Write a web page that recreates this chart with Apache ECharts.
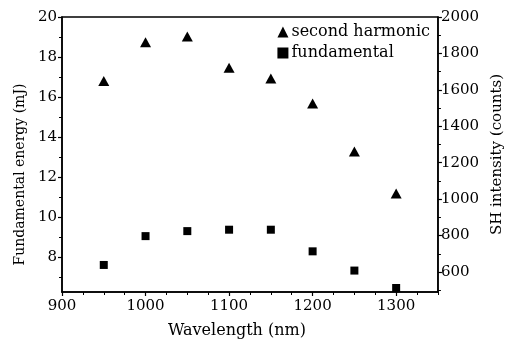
<!DOCTYPE html>
<html>
<head>
<meta charset="utf-8">
<script src="https://cdn.jsdelivr.net/npm/echarts@6/dist/echarts.min.js"></script>
<style>
  html, body { margin: 0; padding: 0; background: #fff; }
  #main { width: 513px; height: 344px; }
</style>
</head>
<body>
<div id="main"></div>
<script>
// wavelength (nm)
const wavelengths = [950, 1000, 1050, 1100, 1150, 1200, 1250, 1300];
// fundamental energy (mJ), left axis
const fundamental = [7.62, 9.06, 9.31, 9.38, 9.38, 8.30, 7.34, 6.47];
// SH intensity (counts), right axis
const secondHarmonic = [1648, 1862, 1893, 1721, 1662, 1525, 1261, 1031];

const xTicks = [900, 1000, 1100, 1200, 1300];
const leftTicks = [8, 10, 12, 14, 16, 18, 20];
const leftMinor = [7, 9, 11, 13, 15, 17, 19];
const rightTicks = [600, 800, 1000, 1200, 1400, 1600, 1800, 2000];
const rightMinor = [500, 700, 900, 1100, 1300, 1500, 1700, 1900];

const font = 'DejaVu Serif';
const ink = '#000';

function pairs(ys) {
    return wavelengths.map(function (w, i) { return [w, ys[i]]; });
}
function plain(v) { return String(v); }

const myChart = echarts.init(document.getElementById('main'));

const option = {
    animation: false,
    backgroundColor: '#fff',
    textStyle: { fontFamily: font, color: ink },
    grid: {
        left: 62, right: 73, top: 17, bottom: 50,
        show: true, borderColor: ink, borderWidth: 1.5
    },
    legend: {
        orient: 'vertical',
        right: 78,
        top: 19,
        itemGap: 5,
        itemWidth: 11,
        itemHeight: 11,
        textStyle: { fontFamily: font, fontSize: 16, color: ink, padding: [0, 0, 0, -2] },
        data: [
            { name: 'second harmonic', icon: 'triangle' },
            { name: 'fundamental', icon: 'rect' }
        ]
    },
    xAxis: [
        {
            type: 'value', min: 900, max: 1350,
            name: 'Wavelength (nm)', nameLocation: 'middle', nameGap: 31,
            nameTextStyle: { fontFamily: font, fontSize: 16, color: ink, padding: [0, 26, 0, 0] },
            axisLine: { lineStyle: { color: ink, width: 1.5 } },
            axisTick: { customValues: xTicks, length: 4, lineStyle: { color: ink, width: 1.2 } },
            axisLabel: { customValues: xTicks, formatter: plain, fontFamily: font, fontSize: 15, color: ink, margin: 7 },
            splitLine: { show: false }
        },
        {
            type: 'value', min: 900, max: 1350, interval: 25, position: 'bottom',
            axisLine: { show: false },
            axisTick: { length: 3, lineStyle: { color: ink, width: 1 } },
            axisLabel: { show: false },
            splitLine: { show: false }
        }
    ],
    yAxis: [
        {
            type: 'value', min: 6.27, max: 20, position: 'left',
            name: 'Fundamental energy (mJ)', nameLocation: 'middle', nameGap: 32,
            nameTextStyle: { fontFamily: font, fontSize: 14, color: ink, padding: [0, 0, 0, -40] },
            axisLine: { show: true, lineStyle: { color: ink, width: 1.5 } },
            axisTick: { customValues: leftTicks, length: 4, lineStyle: { color: ink, width: 1.2 } },
            axisLabel: { customValues: leftTicks, formatter: plain, fontFamily: font, fontSize: 15, color: ink, margin: 5 },
            splitLine: { show: false }
        },
        {
            type: 'value', min: 6.27, max: 20, position: 'left',
            axisLine: { show: false },
            axisTick: { customValues: leftMinor, length: 3, lineStyle: { color: ink, width: 1 } },
            axisLabel: { show: false },
            splitLine: { show: false }
        },
        {
            type: 'value', min: 490, max: 2000, position: 'right',
            name: 'SH intensity (counts)', nameLocation: 'middle', nameGap: 50,
            nameRotate: 90,
            nameTextStyle: { fontFamily: font, fontSize: 15, color: ink },
            axisLine: { show: true, lineStyle: { color: ink, width: 1.5 } },
            axisTick: { customValues: rightTicks, length: 4, lineStyle: { color: ink, width: 1.2 } },
            axisLabel: { customValues: rightTicks, formatter: plain, fontFamily: font, fontSize: 15, color: ink, margin: 3 },
            splitLine: { show: false }
        },
        {
            type: 'value', min: 490, max: 2000, position: 'right',
            axisLine: { show: false },
            axisTick: { customValues: rightMinor, length: 3, lineStyle: { color: ink, width: 1 } },
            axisLabel: { show: false },
            splitLine: { show: false }
        }
    ],
    series: [
        {
            name: 'second harmonic', type: 'scatter',
            yAxisIndex: 2, symbol: 'triangle', symbolSize: [11, 10],
            itemStyle: { color: ink, opacity: 1 },
            data: pairs(secondHarmonic)
        },
        {
            name: 'fundamental', type: 'scatter',
            yAxisIndex: 0, symbol: 'rect', symbolSize: 8,
            itemStyle: { color: ink, opacity: 1 },
            data: pairs(fundamental)
        }
    ]
};

myChart.setOption(option);
</script>
</body>
</html>
